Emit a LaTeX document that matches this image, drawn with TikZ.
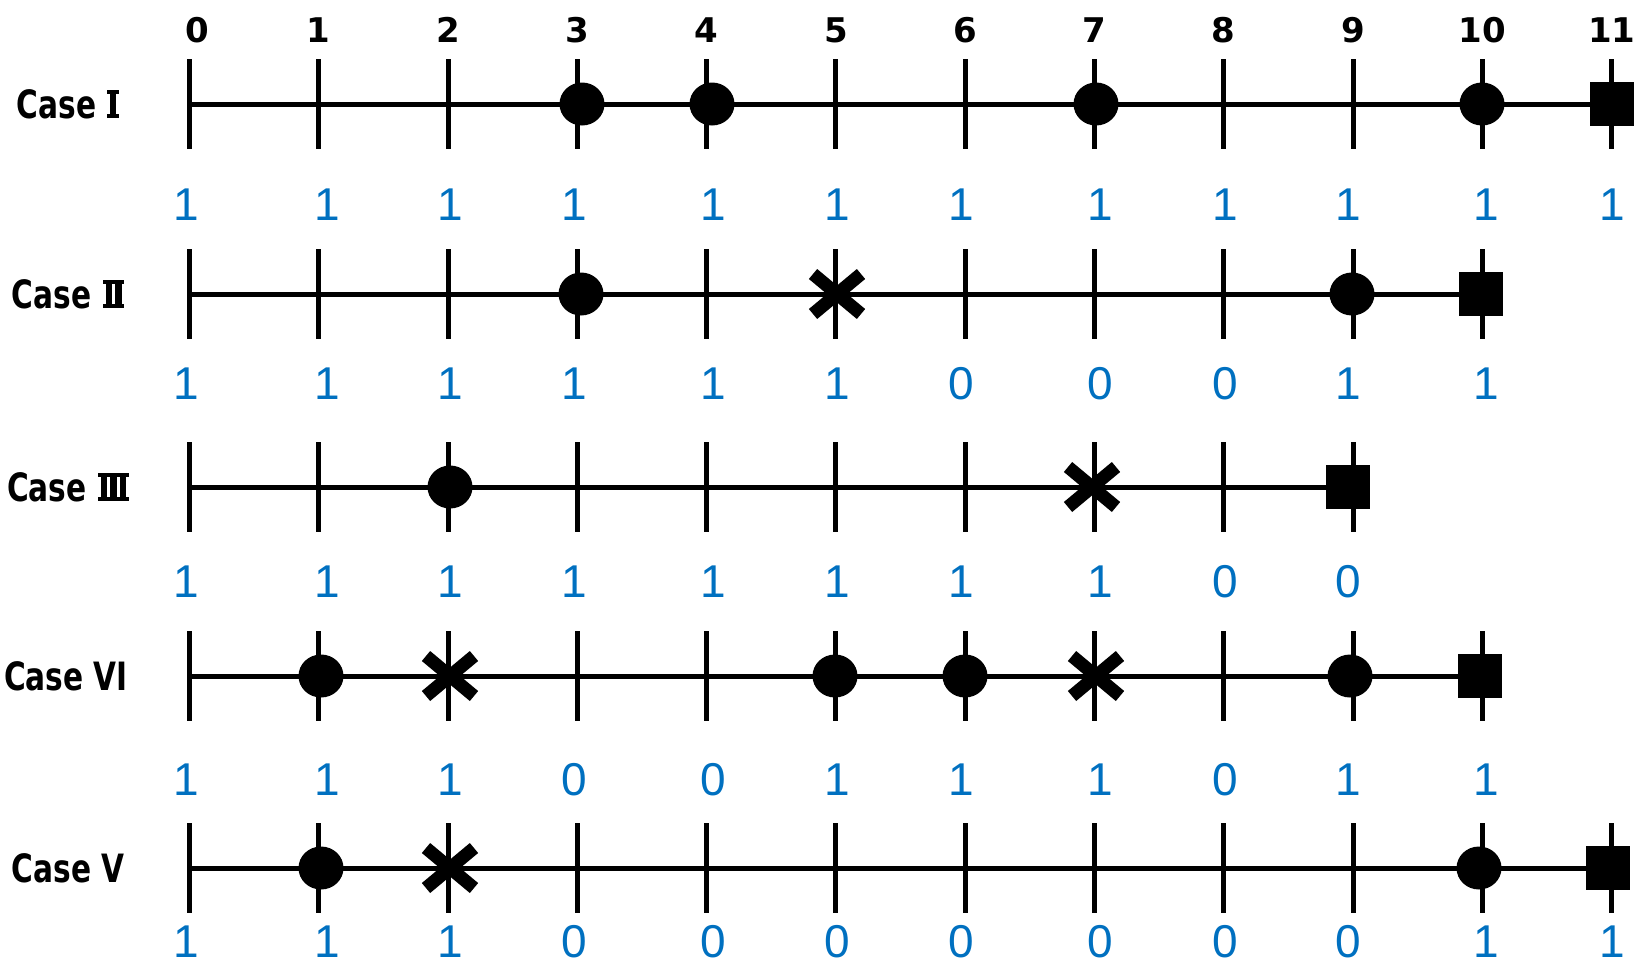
\documentclass[tikz,border=0pt]{standalone}
\usepackage{fontspec}
\usepackage{graphicx}
\usetikzlibrary{shapes.geometric}
\setmainfont{DejaVu Sans}
\newfontfamily\bluefont{Liberation Sans}
\definecolor{digblue}{RGB}{0,112,192}
\newcommand\romI{\vbox{\hrule width 12pt height 4pt\hbox to 12pt{\hfil\vrule width 6.5pt height 20pt\hfil}\hrule height 4pt}}
\newcommand\romII{\vbox{\hrule width 21pt height 4pt\hbox to 21pt{\hfil\vrule width 6.5pt height 20pt\hskip3pt\vrule width 6.5pt height 20pt\hfil}\hrule height 4pt}}
\newcommand\romIII{\vbox{\hrule width 30.5pt height 4pt\hbox to 30.5pt{\hfil\vrule width 6.5pt height 20pt\hskip3pt\vrule width 6.5pt height 20pt\hskip3pt\vrule width 6.5pt height 20pt\hfil}\hrule height 4pt}}
\newcommand\xmk[2]{%
  \node[inner sep=0pt,minimum size=0pt] (#1) at (#2) {};
  \draw[xstroke] ([shift={(-24,-20)}]#1.center) -- ([shift={(24,20)}]#1.center);
  \draw[xstroke] ([shift={(-24,20)}]#1.center) -- ([shift={(24,-20)}]#1.center);}
\begin{document}
\begin{tikzpicture}[x=1pt,y=-1pt,
  tickmark/.style={line width=5pt},
  axis/.style={line width=5pt},
  dot/.style={ellipse, fill=black, minimum width=45pt, minimum height=43pt, inner sep=0pt},
  sqr/.style={rectangle, fill=black, minimum size=44pt, inner sep=0pt},
  xstroke/.style={line width=13pt},
  toplbl/.style={font=\bfseries\fontsize{34}{36}\selectfont, inner sep=0pt},
  bluedig/.style={text=digblue, font=\bluefont\fontsize{46}{50}\selectfont, inner sep=0pt},
  caselbl/.style={font=\bfseries\fontsize{39}{42}\selectfont, inner sep=0pt}
]
\useasboundingbox (0,0) rectangle (1641,964);
\def\bx{{186,327,450,574,713,837,961,1100,1225,1348,1486,1612}}

% top numbers
\foreach \i in {0,...,11} {
  \pgfmathsetmacro\xx{189.4+129.3*\i+(\i==0)*8}
  \node[toplbl] (top\i) at (\xx,30) {\i};
}

% rows: ticks
\foreach \r/\y/\n in {1/104/11, 2/294/10, 3/487/9, 4/676/10, 5/868/11} {
  \foreach \i in {0,...,\n} {
    \coordinate (t\r-\i) at ({189.4+129.3*\i},\y);
    \draw[tickmark] (t\r-\i) ++(0,-45) -- ++(0,90);
  }
}

% case labels
\node[caselbl] (c1) at (68,104) {\scalebox{0.76}[1]{Case}\hskip11pt\romI};
\node[caselbl] (c2) at (68,294) {\scalebox{0.76}[1]{Case}\hskip12pt\romII};
\node[caselbl] (c3) at (68,487) {\scalebox{0.76}[1]{Case}\hskip12pt\romIII};
\node[caselbl] (c4) at (66,676) {\scalebox{0.76}[1]{Case VI}};
\node[caselbl] (c5) at (68,868) {\scalebox{0.76}[1]{Case V}};

% end coordinates
\coordinate (e1) at (1612,104);
\coordinate (e2) at (1481,294);
\coordinate (e3) at (1348,487);
\coordinate (e4) at (1480,676);
\coordinate (e5) at (1608,868);
\foreach \r in {1,...,5} { \draw[axis] (t\r-0) -- (e\r); }

% row 1
\node[dot] (d1a) at (582,104) {};
\node[dot] (d1b) at (712,104) {};
\node[dot] (d1c) at (1096,104) {};
\node[dot] (d1d) at (1482,104) {};
\node[sqr] (s1) at (e1) {};
% row 2
\node[dot] (d2a) at (581,294) {};
\xmk{x2a}{837,294}
\node[dot] (d2b) at (1352,294) {};
\node[sqr] (s2) at (e2) {};
% row 3
\node[dot] (d3a) at (450,487) {};
\xmk{x3a}{1092,487}
\node[sqr] (s3) at (e3) {};
% row 4
\node[dot] (d4a) at (321,676) {};
\xmk{x4a}{450,676}
\node[dot] (d4b) at (835,676) {};
\node[dot] (d4c) at (965,676) {};
\xmk{x4b}{1096,676}
\node[dot] (d4d) at (1350,676) {};
\node[sqr] (s4) at (e4) {};
% row 5
\node[dot] (d5a) at (321,868) {};
\xmk{x5a}{450,868}
\node[dot] (d5b) at (1479,868) {};
\node[sqr] (s5) at (e5) {};

% blue digits
\foreach \r/\y/\vals in {
  1/205/{1,1,1,1,1,1,1,1,1,1,1,1},
  2/384/{1,1,1,1,1,1,0,0,0,1,1},
  3/582/{1,1,1,1,1,1,1,1,0,0},
  4/780/{1,1,1,0,0,1,1,1,0,1,1},
  5/942/{1,1,1,0,0,0,0,0,0,0,1,1}} {
  \foreach \v [count=\c from 0] in \vals {
    \pgfmathsetmacro\xx{\bx[\c]}
    \node[bluedig] (b\r-\c) at (\xx,\y) {\v};
  }
}
\end{tikzpicture}
\end{document}
